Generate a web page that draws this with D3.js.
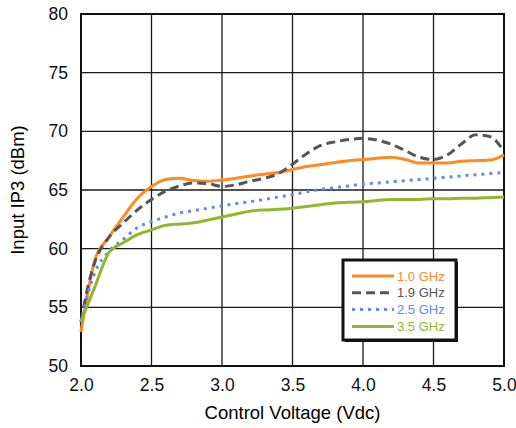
<!DOCTYPE html>
<html lang="en">
<head>
  <meta charset="UTF-8">
  <title>Input IP3 vs Control Voltage</title>
  <script src="https://d3js.org/d3.v7.min.js"></script>
  <style>
    body { margin: 0; background: #fff; font-family: "Liberation Sans", Arial, sans-serif; }
    .grid line { stroke: #1a1a1a; stroke-width: 1.3; }
    .tick text { font-size: 17.5px; fill: #111; }
  </style>
</head>
<body>
  <svg width="516" height="428"></svg>
  <script>
    const voltage = [2.0, 2.05, 2.1, 2.2, 2.3, 2.4, 2.5, 2.6, 2.7, 2.8, 2.9, 3.0, 3.1, 3.2, 3.3, 3.4,
                     3.5, 3.6, 3.7, 3.8, 3.9, 4.0, 4.1, 4.2, 4.3, 4.4, 4.5, 4.6, 4.7, 4.8, 4.9, 5.0];
    const ip3_1_0 = [52.9, 56.4, 59.1, 61.0, 62.7, 64.3, 65.3, 65.9, 66.0, 65.8, 65.75, 65.85, 66.0, 66.2, 66.35, 66.5,
                     66.75, 67.0, 67.15, 67.35, 67.5, 67.6, 67.7, 67.8, 67.6, 67.3, 67.3, 67.3, 67.45, 67.5, 67.55, 68.0];
    const ip3_1_9 = [53.8, 56.8, 58.9, 61.0, 62.2, 63.3, 64.2, 64.9, 65.35, 65.6, 65.55, 65.3, 65.45, 65.75, 66.0, 66.4,
                     67.2, 68.1, 68.8, 69.1, 69.3, 69.4, 69.25, 68.9, 68.35, 67.8, 67.6, 68.0, 68.95, 69.7, 69.55, 68.3];
    const ip3_2_5 = [53.7, 56.2, 58.0, 59.8, 60.8, 61.8, 62.3, 62.7, 63.05, 63.25, 63.45, 63.65, 63.85, 64.0, 64.2, 64.4,
                     64.6, 64.85, 65.05, 65.2, 65.35, 65.5, 65.6, 65.7, 65.8, 65.9, 66.0, 66.1, 66.2, 66.3, 66.4, 66.5];
    const ip3_3_5 = [53.8, 55.3, 56.8, 59.7, 60.5, 61.2, 61.6, 62.0, 62.1, 62.2, 62.45, 62.7, 62.95, 63.2, 63.3, 63.35,
                     63.45, 63.6, 63.75, 63.9, 63.95, 64.0, 64.1, 64.2, 64.2, 64.2, 64.25, 64.25, 64.3, 64.3, 64.35, 64.4];
    const seriesNames = ["1.0 GHz", "1.9 GHz", "2.5 GHz", "3.5 GHz"];
    const xTicks = [2.0, 2.5, 3.0, 3.5, 4.0, 4.5, 5.0];
    const yTicks = [50, 55, 60, 65, 70, 75, 80];

    const series = [
      {name: seriesNames[0], values: ip3_1_0, color: "#ff8a1f", dash: null},
      {name: seriesNames[1], values: ip3_1_9, color: "#555555", dash: "9,5"},
      {name: seriesNames[2], values: ip3_2_5, color: "#6686f5", dash: "3,5"},
      {name: seriesNames[3], values: ip3_3_5, color: "#92b62c", dash: null}
    ];

    const svg = d3.select("svg"),
          margin = {top: 14, right: 12, bottom: 62, left: 81},
          width = 516 - margin.left - margin.right,
          height = 428 - margin.top - margin.bottom;

    const g = svg.append("g").attr("transform", `translate(${margin.left},${margin.top})`);

    const x = d3.scaleLinear().domain([2, 5]).range([0, width]);
    const y = d3.scaleLinear().domain([50, 80]).range([height, 0]);

    // grid
    g.append("g").attr("class", "grid")
      .selectAll("line").data(xTicks).enter().append("line")
      .attr("x1", d => x(d)).attr("x2", d => x(d))
      .attr("y1", 0).attr("y2", height);
    g.append("g").attr("class", "grid")
      .selectAll("line").data(yTicks).enter().append("line")
      .attr("x1", 0).attr("x2", width)
      .attr("y1", d => y(d)).attr("y2", d => y(d));

    // axes
    const xAxis = g.append("g")
      .attr("transform", `translate(0,${height})`)
      .call(d3.axisBottom(x).tickValues(xTicks).tickFormat(d3.format(".1f")).tickSize(0).tickPadding(13));
    const yAxis = g.append("g")
      .call(d3.axisLeft(y).tickValues(yTicks).tickSize(0).tickPadding(13));
    xAxis.select(".domain").remove();
    yAxis.select(".domain").remove();
    xAxis.selectAll("text").attr("font-family", "Liberation Sans, Arial, sans-serif");
    yAxis.selectAll("text").attr("font-family", "Liberation Sans, Arial, sans-serif");

    // frame
    g.append("rect")
      .attr("width", width).attr("height", height)
      .attr("fill", "none").attr("stroke", "#111").attr("stroke-width", 2);

    // lines
    const line = d3.line()
      .x((d, i) => x(voltage[i]))
      .y(d => y(d))
      .curve(d3.curveMonotoneX);

    g.selectAll(".series")
      .data(series)
      .enter()
      .append("path")
      .attr("class", "series")
      .attr("d", d => line(d.values))
      .attr("fill", "none")
      .attr("stroke", d => d.color)
      .attr("stroke-width", 3)
      .attr("stroke-dasharray", d => d.dash);

    // axis titles
    svg.append("text")
      .attr("x", margin.left + width / 2)
      .attr("y", 419)
      .attr("text-anchor", "middle")
      .style("font-size", "18.5px")
      .text("Control Voltage (Vdc)");
    svg.append("text")
      .attr("transform", `translate(24,${margin.top + height / 2}) rotate(-90)`)
      .attr("text-anchor", "middle")
      .style("font-size", "18.5px")
      .text("Input IP3 (dBm)");

    // legend
    const legend = svg.append("g").attr("transform", "translate(343,260)");
    legend.append("rect")
      .attr("x", 2).attr("y", 2).attr("width", 113).attr("height", 80)
      .attr("fill", "#111");
    legend.append("rect")
      .attr("width", 113).attr("height", 80)
      .attr("fill", "#fff").attr("stroke", "#111").attr("stroke-width", 3);
    const item = legend.selectAll(".item")
      .data(series)
      .enter()
      .append("g")
      .attr("transform", (d, i) => `translate(0,${16 + i * 16.8})`);
    item.append("line")
      .attr("x1", 9).attr("x2", 51)
      .attr("stroke", d => d.color)
      .attr("stroke-width", 3)
      .attr("stroke-dasharray", d => d.dash);
    item.append("text")
      .attr("x", 54).attr("dy", "0.35em")
      .style("font-size", "13px")
      .attr("fill", d => d.color)
      .text(d => d.name);
  </script>
</body>
</html>
